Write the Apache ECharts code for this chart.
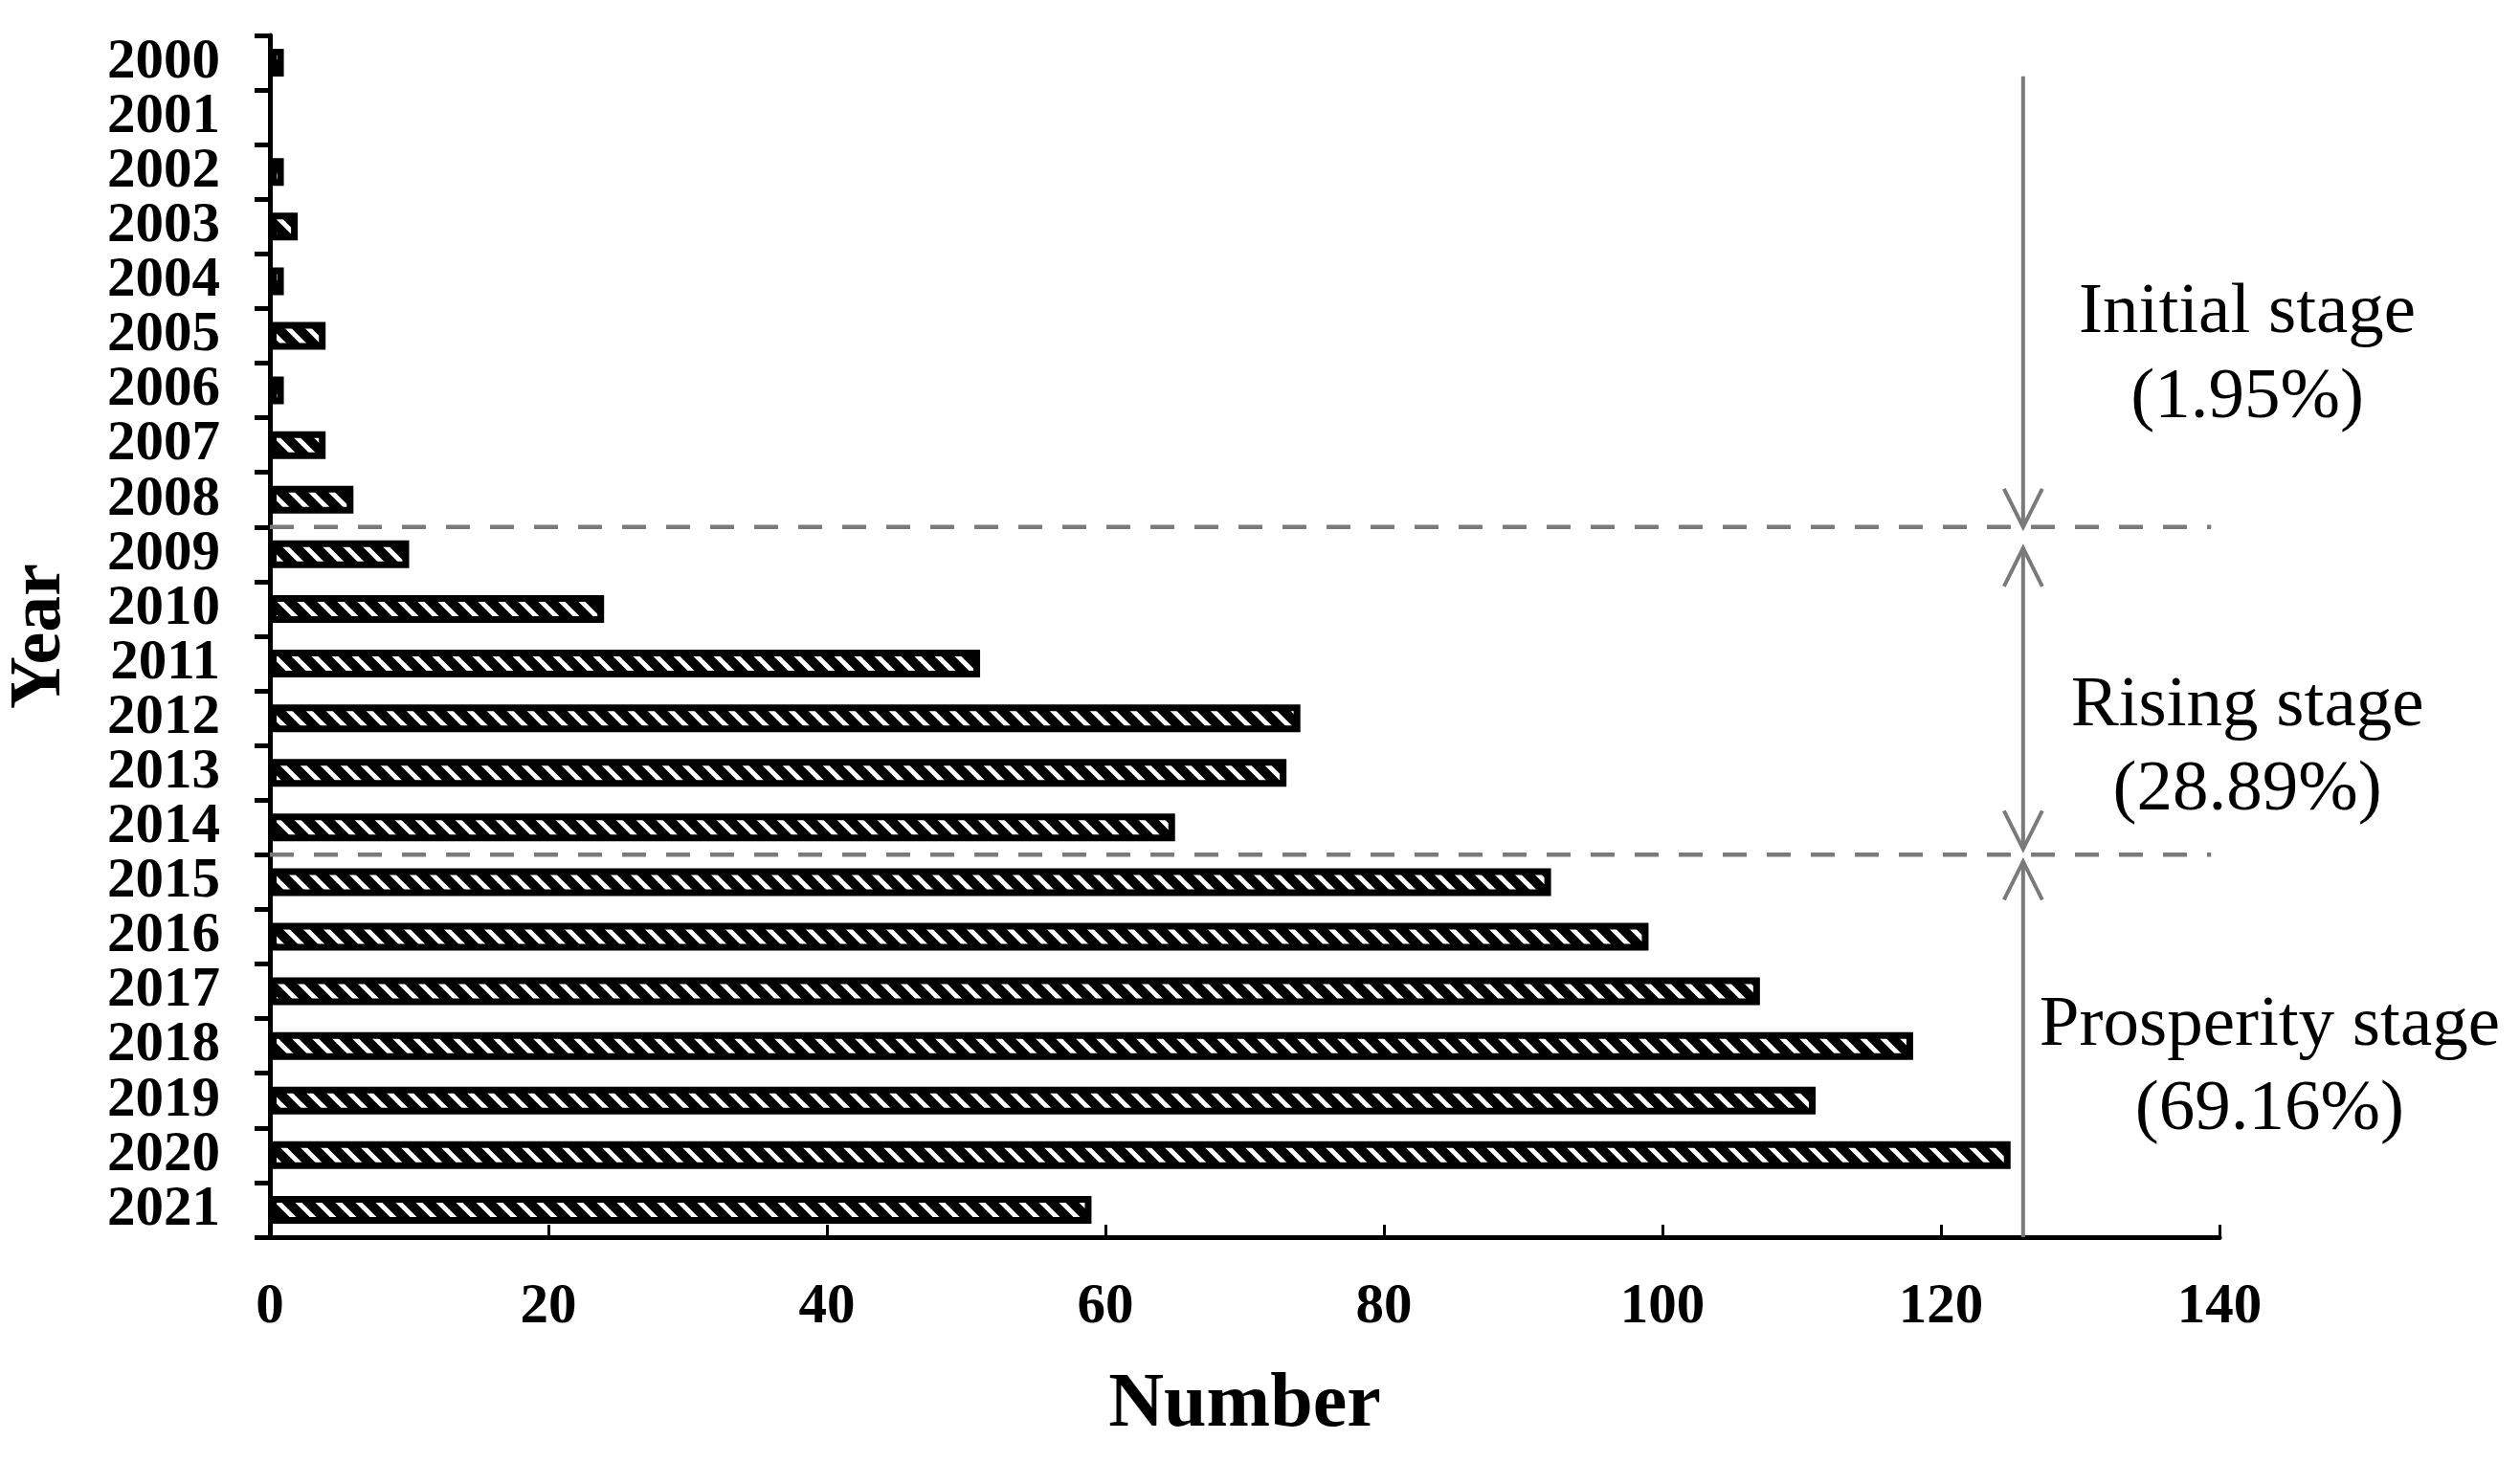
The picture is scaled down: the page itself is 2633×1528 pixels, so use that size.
<!DOCTYPE html>
<html>
<head>
<meta charset="utf-8">
<title>Number by year</title>
<script src="https://cdn.jsdelivr.net/npm/echarts@6/dist/echarts.min.js"></script>
<style>
  html, body { margin: 0; padding: 0; background: #ffffff; }
  #chart { width: 2633px; height: 1528px; }
</style>
</head>
<body>
<div id="chart"></div>
<script>
// ---------- data ----------
const years = ['2000','2001','2002','2003','2004','2005','2006','2007','2008','2009','2010',
               '2011','2012','2013','2014','2015','2016','2017','2018','2019','2020','2021'];
const counts = [1, 0, 1, 2, 1, 4, 1, 4, 6, 10, 24, 51, 74, 73, 65, 92, 99, 107, 118, 111, 125, 59];
const xMin = 0, xMax = 140, xStep = 20;

// stage annotations (category-index units on the y direction)
const stageNames = ['Initial stage', 'Rising stage', 'Prosperity stage'];
const stagePercents = ['(1.95%)', '(28.89%)', '(69.16%)'];
const stageBounds = [[0.25, 8.5], [8.5, 14.5], [14.5, 21.5]];
const arrowX = 125.9;
const dividerEnd = 139.4;
const labelX = [142, 142, 143.6];
const labelY = [[4.58, 6.15], [11.79, 13.33], [17.63, 19.18]];

// ---------- hatch pattern ----------
function makeHatch() {
  const w = 21, h = 21;
  const c = document.createElement('canvas');
  c.width = w; c.height = h;
  const ctx = c.getContext('2d');
  ctx.fillStyle = '#000';
  ctx.fillRect(0, 0, w, h);
  ctx.strokeStyle = '#fff';
  ctx.lineWidth = 5;
  for (const dx of [-w, 0, w]) {
    ctx.beginPath();
    ctx.moveTo(dx - w, -h);
    ctx.lineTo(dx + 2 * w, 2 * h);
    ctx.stroke();
  }
  return c;
}
const hatch = makeHatch();

const GRAY = '#7a7a7a';
const SERIF = '"Liberation Serif", "Times New Roman", serif';
const headTop = [false, true, true];
const headBottom = [true, true, false];
const gapTop = [0, 22, 7];
const gapBottom = [0, 6, 0];

const chart = echarts.init(document.getElementById('chart'), null, { renderer: 'canvas' });

const option = {
  backgroundColor: '#ffffff',
  animation: false,
  grid: { left: 282, right: 314, top: 37, bottom: 235, containLabel: false, outerBoundsMode: 'none' },
  xAxis: {
    type: 'value',
    min: xMin, max: xMax, interval: xStep,
    name: 'Number',
    nameLocation: 'middle',
    nameGap: 136,
    nameTextStyle: { fontFamily: SERIF, fontWeight: 'bold', fontSize: 80, color: '#000' },
    axisLine: { show: true, onZero: false, lineStyle: { color: '#000', width: 5 } },
    axisTick: { show: true, inside: true, length: 13, lineStyle: { color: '#000', width: 3 } },
    axisLabel: { fontFamily: SERIF, fontWeight: 'bold', fontSize: 59, color: '#000', margin: 44 },
    splitLine: { show: false }
  },
  yAxis: [
    {
      type: 'category',
      data: years,
      inverse: true,
      name: 'Year',
      nameLocation: 'middle',
      nameGap: 202,
      nameRotate: 90,
      nameTextStyle: { fontFamily: SERIF, fontWeight: 'bold', fontSize: 76, color: '#000' },
      axisLine: { show: true, onZero: false, lineStyle: { color: '#000', width: 5 } },
      axisTick: { show: true, inside: false, length: 16, lineStyle: { color: '#000', width: 5 } },
      axisLabel: { interval: 0, fontFamily: SERIF, fontWeight: 'bold', fontSize: 59, color: '#000', margin: 52 },
      splitLine: { show: false }
    },
    {
      type: 'value',
      min: -0.5, max: years.length - 0.5,
      inverse: true,
      show: false,
      splitLine: { show: false }
    }
  ],
  series: [
    {
      type: 'bar',
      xAxisIndex: 0,
      yAxisIndex: 0,
      barWidth: 29,
      data: counts.map(v => v === 0 ? { value: v, itemStyle: { borderWidth: 0 } } : v),
      itemStyle: {
        color: { image: hatch, repeat: 'repeat' },
        borderColor: '#000',
        borderWidth: 7
      },
      emphasis: { disabled: true }
    },
    {
      type: 'custom',
      xAxisIndex: 0,
      yAxisIndex: 1,
      clip: false,
      silent: true,
      encode: { x: 0, y: [1, 2] },
      data: stageBounds.map(b => [arrowX, b[0], b[1]]),
      renderItem: function (params, api) {
        const i = params.dataIndex;
        const x = api.coord([arrowX, 0])[0];
        const yStart = api.coord([arrowX, stageBounds[i][0]])[1];
        const yEnd = api.coord([arrowX, stageBounds[i][1]])[1];
        const topTip = yStart + gapTop[i];
        const botTip = yEnd - gapBottom[i];
        const stroke = { stroke: GRAY, lineWidth: 4, fill: null };
        const children = [];
        children.push({ type: 'line', shape: { x1: x, y1: topTip, x2: x, y2: botTip }, style: stroke });
        if (headTop[i]) {
          children.push({ type: 'polyline', shape: { points: [[x - 20, topTip + 40], [x, topTip], [x + 20, topTip + 40]] }, style: stroke });
        }
        if (headBottom[i]) {
          children.push({ type: 'polyline', shape: { points: [[x - 20, botTip - 40], [x, botTip], [x + 20, botTip - 40]] }, style: stroke });
        }
        if (i < stageBounds.length - 1) {
          const xa = api.coord([0, 0])[0];
          const xb = api.coord([dividerEnd, 0])[0];
          children.push({ type: 'line', shape: { x1: xa, y1: yEnd, x2: xb, y2: yEnd }, style: { stroke: GRAY, lineWidth: 4.5, lineDash: [25, 21] } });
        }
        const p1 = api.coord([labelX[i], labelY[i][0]]);
        const p2 = api.coord([labelX[i], labelY[i][1]]);
        const ts = { fontFamily: SERIF, fontSize: 75, fill: '#000', align: 'center', verticalAlign: 'middle' };
        children.push({ type: 'text', style: Object.assign({ text: stageNames[i], x: p1[0], y: p1[1] }, ts) });
        children.push({ type: 'text', style: Object.assign({ text: stagePercents[i], x: p2[0], y: p2[1] }, ts) });
        return { type: 'group', children: children };
      }
    }
  ]
};

chart.setOption(option);
</script>
</body>
</html>
